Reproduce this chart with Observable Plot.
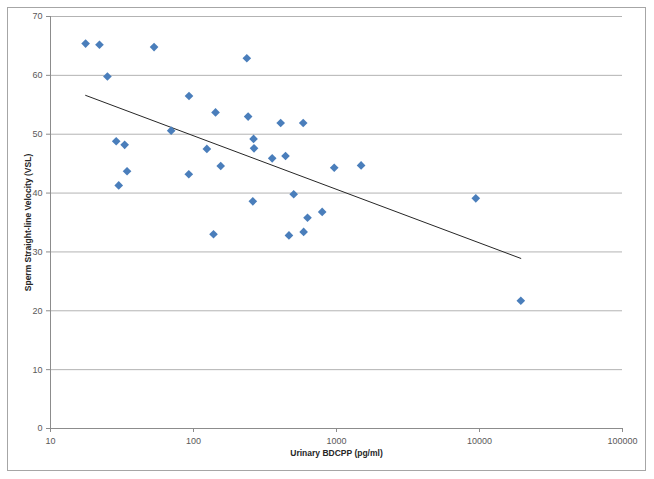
<!DOCTYPE html>
<html>
<head>
<meta charset="utf-8">
<script src="https://cdn.jsdelivr.net/npm/d3@7"></script>
<script src="https://cdn.jsdelivr.net/npm/@observablehq/plot@0.6"></script>
<style>
  html, body { margin: 0; padding: 0; background: #fff; }
  #wrap { position: relative; width: 654px; height: 479px; }
  #border { position: absolute; left: 7px; top: 7px; width: 639px; height: 464px; border: 1px solid #a6a6a6; box-sizing: border-box; pointer-events: none; }
  svg { font-family: "Liberation Sans", Arial, sans-serif; }
</style>
</head>
<body>
<div id="wrap"><div id="border"></div></div>
<script>
const bdcpp = [17.6, 22, 25, 28.8, 33, 30, 34.3, 53, 69.8, 93, 92.7, 124, 142.6, 155, 138,
  236, 241, 263, 265, 260, 355, 407, 440, 502, 465, 585, 627, 589, 794, 964, 1486, 9420, 19450];
const vsl = [65.4, 65.2, 59.8, 48.8, 48.2, 41.3, 43.7, 64.8, 50.6, 56.5, 43.2, 47.5, 53.7, 44.6, 33.0,
  62.9, 53.0, 49.2, 47.6, 38.6, 45.9, 51.9, 46.3, 39.8, 32.8, 51.9, 35.8, 33.4, 36.8, 44.3, 44.7, 39.1, 21.7];
const trendX = [17.6, 19450];
const trendY = [56.6, 28.9];
const xTicks = [10, 100, 1000, 10000, 100000];
const yTicks = [0, 10, 20, 30, 40, 50, 60, 70];
const xLabel = "Urinary BDCPP (pg/ml)";
const yLabel = "Sperm Straight-line Velocity (VSL)";

const points = bdcpp.map((x, i) => ({x, y: vsl[i]}));
const trend = trendX.map((x, i) => ({x, y: trendY[i]}));

const chart = Plot.plot({
  width: 654,
  height: 479,
  marginLeft: 50,
  marginRight: 32,
  marginTop: 16,
  marginBottom: 51,
  style: {fontSize: "9px", fontFamily: "Liberation Sans, Arial, sans-serif", color: "#595959", background: "transparent"},
  x: {type: "log", domain: [10, 100000]},
  y: {domain: [0, 70]},
  marks: [
    Plot.ruleY(yTicks.filter(d => d > 0), {stroke: "#b3b3b3", strokeWidth: 1}),
    Plot.ruleX([10], {stroke: "#8c8c8c"}),
    Plot.ruleY([0], {stroke: "#8c8c8c"}),
    Plot.axisY({ticks: yTicks, tickSize: 4, tickPadding: 4, stroke: "#8c8c8c", label: null, fill: "#595959"}),
    Plot.axisX({ticks: xTicks, tickSize: 4, tickPadding: 5, tickFormat: d => String(d), stroke: "#8c8c8c", label: null, fill: "#595959"}),
    Plot.line(trend, {x: "x", y: "y", stroke: "#262626", strokeWidth: 1}),
    Plot.dot(points, {x: "x", y: "y", symbol: "diamond2", r: 3.9, fill: "#4a7ebb", stroke: "none"}),
    Plot.text([xLabel], {frameAnchor: "bottom", dy: 27, fontWeight: "bold", fontSize: 8.5, fill: "#262626"}),
    Plot.text([yLabel], {frameAnchor: "left", textAnchor: "middle", dx: -22, rotate: -90, fontWeight: "bold", fontSize: 8.5, fill: "#262626"})
  ]
});
document.getElementById("wrap").appendChild(chart);
chart.style.position = "absolute";
chart.style.left = "0";
chart.style.top = "0";
</script>
</body>
</html>
